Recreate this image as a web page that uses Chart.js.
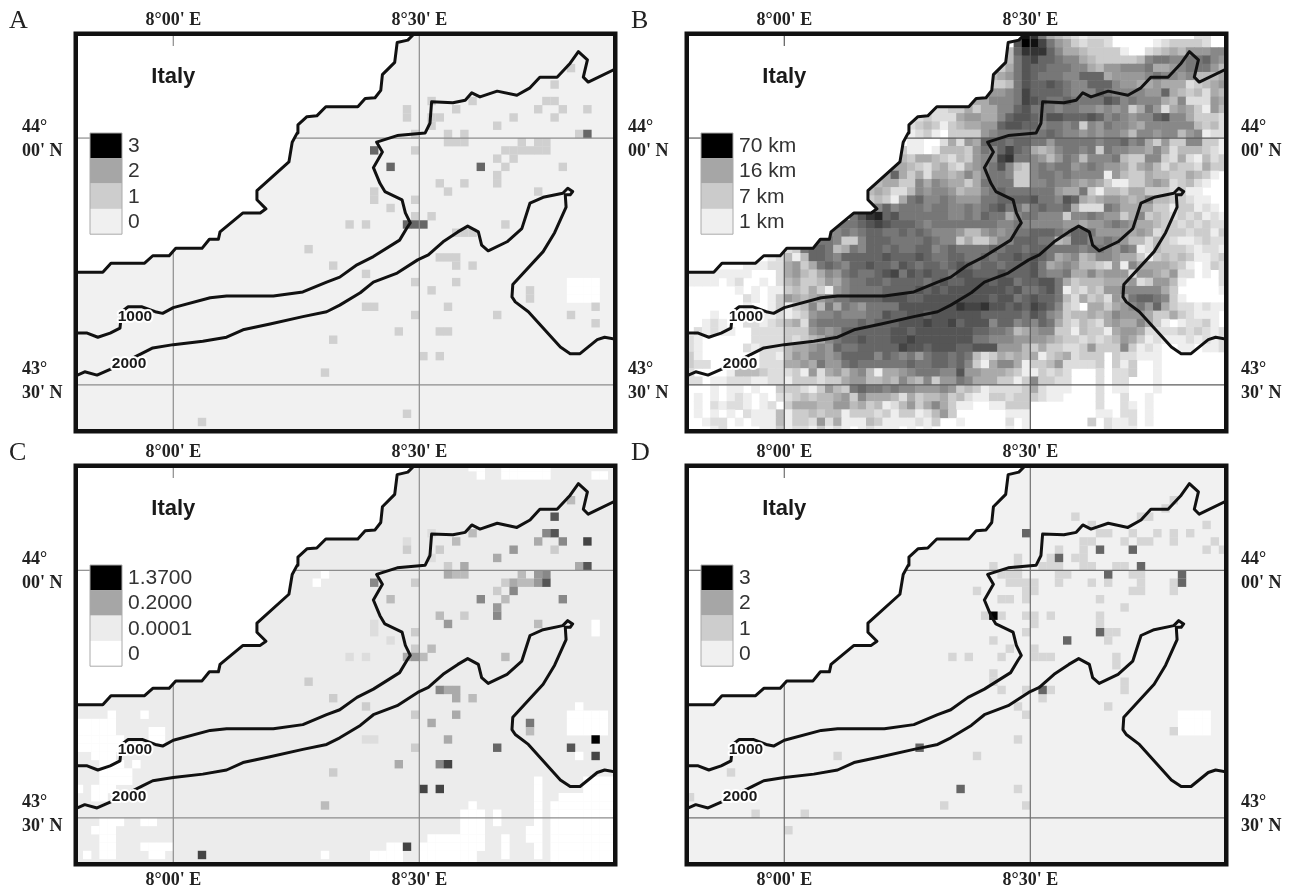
<!DOCTYPE html>
<html>
<head>
<meta charset="utf-8">
<title>Italy maps</title>
<script src="https://cdn.jsdelivr.net/npm/chart.js@4"></script>
<style>
html, body { margin: 0; background: #fff; }
canvas { position: absolute; filter: blur(0.5px); }
</style>
</head>
<body>
<canvas id="mapA" width="620" height="440" style="left:0;top:0"></canvas>
<canvas id="mapB" width="669" height="440" style="left:620px;top:0"></canvas>
<canvas id="mapC" width="620" height="450" style="left:0;top:440px"></canvas>
<canvas id="mapD" width="669" height="450" style="left:620px;top:440px"></canvas>
<script>
// all map positions are minutes: x east of 8°00', y north of 43°30'
const lonLabels = ["8°00' E", "8°30' E"];
const latLabels = [["44°", "00' N"], ["43°", "30' N"]];
const gridLons = [0, 30];
const gridLats = [30, 0];

const legendA = ["3", "2", "1", "0"];
const legendB = ["70 km", "16 km", "7 km", "1 km"];
const legendC = ["1.3700", "0.2000", "0.0001", "0"];
const legendD = ["3", "2", "1", "0"];

const coastNorth = [[-11.7,13.7],[-8.6,13.7],[-7.6,14.8],[-3.5,14.8],[-2.5,15.7],[-0.5,15.7],[0.3,16.6],[3.5,16.6],[4.4,17.7],[5.5,17.7],[5.7,18.6],[8.5,20.9],[10.6,20.9],[11.3,21.4],[10.2,22.5],[10.2,23.6],[14.1,27.1],[14.5,29.5],[15.1,30.6],[15.2,31.6],[16.3,32.6],[17.5,32.7],[18.6,33.8],[22.5,33.8],[23.4,34.8],[24.6,34.9],[25.3,35.8],[25.5,37.7],[27,39.2],[27.3,41.6],[28.6,41.9],[29.2,42.5]];
const iso1000 = [[-11.7,6.3],[-10.5,6.3],[-9.2,5.8],[-7.7,6.3],[-6.5,6.9],[-6.3,8.9],[-5.5,9.5],[-3.8,9.5],[-2.2,8.9],[-1.3,8.7],[0,9.4],[4.5,10.6],[6.5,10.8],[12.2,10.8],[15.8,11.3],[18.7,12.5],[20.3,13.1],[22.4,14.6],[24.4,15.6],[27.6,17.6],[28.5,19.1],[28.9,19.7],[28.3,20.9],[27.9,22.5],[25.8,23.5],[25.2,24.5],[24.4,26.4],[25.5,28.3],[24.8,29.5],[27.3,30.3],[30.7,30.6],[31.3,31.8],[31.5,34.4],[34.1,34.3],[35.6,34.6],[36.4,35.5],[37.4,35],[39.5,35.7],[41.9,35.2],[43.5,36.1],[44.7,37.4],[46.8,37.4],[48.4,39.1],[49.4,40.5],[50.5,39.5],[50,37.4],[50.6,36.8],[53.7,38.3]];
const iso2000 = [[-11.7,1.2],[-10.8,1.6],[-9.3,1.2],[-7.7,1.9],[-3.7,3.9],[-2.5,4.5],[0,4.9],[3.6,5.3],[6.5,5.8],[8.5,6.7],[11.8,7.4],[15.8,8.3],[18.7,8.9],[20.3,9.7],[22.8,11.2],[24.4,12.5],[27.3,13.6],[29.8,15.2],[31.1,15.8],[32.9,17.4],[34.7,18.6],[35.9,19.3],[37.2,18.6],[37.6,17],[38.4,16.3],[40.7,17.4],[42.5,19],[43.5,22.1],[45.1,22.8],[47.5,23.3],[48.1,23.9],[48.7,23.5],[48.4,23.1],[47.8,23.1],[47.9,21.6],[46.5,18.5],[45.1,16.2],[41.4,12.2],[41.3,10.7],[41.7,10.1],[43.3,8.9],[47.2,4.6],[48.4,3.8],[49.6,3.8],[51.7,5.5],[52.6,5.8],[53.7,5.6]];

// panel A, cells [col, row] per class
const aOnes = [[28,32],[28,33],[31,34],[32,32],[31,32],[31,31],[34,33],[36,34],[29,30],[33,30],[33,29],[34,29],[35,30],[35,29],[29,28],[39,31],[41,32],[44,33],[45,34],[46,34],[47,33],[46,32],[46,36],[48,38],[50,33],[49,30],[42,29],[44,29],[45,29],[40,28],[41,28],[42,28],[43,28],[44,28],[45,28],[41,27],[39,27],[40,26],[47,26],[39,25],[39,24],[32,24],[33,23],[35,24],[44,23],[29,22],[24,23],[24,22],[26,21],[29,20],[31,20],[21,19],[23,19],[40,19],[34,18],[35,18],[36,18],[32,15],[33,15],[34,15],[34,14],[36,14],[23,13],[29,12],[34,12],[31,11],[43,11],[43,10],[23,9],[24,9],[33,9],[29,8],[39,8],[48,8],[51,9],[51,7],[27,6],[32,6],[33,6],[30,3],[32,3],[28,-4],[16,16],[19,14],[19,5],[18,1],[3,-5]];
const aTwos = [[50,30],[37,26],[26,26],[24,28],[28,19],[29,19],[30,19]];
const aBlank = [[48,12],[49,12],[50,12],[51,12],[48,11],[49,11],[50,11],[51,11],[48,10],[49,10],[50,10],[51,10]];

// panel B, one hex digit per cell from col -12 to 53 (0 white, f black), top row is 42
const bRows = [
"000000000000 0000000000 0000000000 000000009e c854321222 0000000000 2200",
"000000000000 0000000000 0000000000 00000000af eb86532332 0000012333 3200",
"000000000000 0000000000 0000000000 000000049c cc97554333 3100234546 6677",
"000000000000 0000000000 0000000000 000000048a b998775433 3334788778 8976",
"000000000000 0000000000 0000000000 000000358a 9988877546 6777855678 8864",
"000000000000 0000000000 0000000000 000004568a 9888779995 6666787767 4445",
"000000000000 0000000000 0000000000 000033348a 99a9877999 7665565552 3456",
"000000000000 0000000000 0000000000 000566678b 9999877798 7777669543 4254",
"000000000000 0000000000 0000000000 004557778b a98898888a 9787775472 2265",
"000000000000 0000000000 0000000322 335355779a 8887887767 6735862565 3164",
"000000000000 0000000000 0000002322 25665579aa 98aa999a97 876779a775 3332",
"000000000000 0000000000 0000023431 3455669aa9 9788783768 7765777777 4342",
"000000000000 0000000000 0000012310 3333678888 8898776767 7647767746 7122",
"000000000000 0000000000 0000011002 5265999899 8868888878 8978536337 7331",
"000000000000 0000000000 0000311014 4436879b98 5457887838 7766575244 4321",
"000000000000 0000000000 0003435543 243677bc88 7646874777 8433773252 1423",
"000000000000 0000000000 0055543245 325678a743 7878867876 6535642433 2533",
"000000000000 0000000000 0459535255 4575788733 7887877771 6433544335 4310",
"000000000000 0000000000 3455337576 5535888833 7787765653 1133565234 2100",
"000000000000 0000000004 4542247677 6455789888 8886558314 4355333231 1000",
"000000000000 0000000004 3431589778 7666889999 a887a95456 6545744332 1100",
"000000000000 0000000000 6797888788 778789a886 8988952228 7555533133 1210",
"000000000000 000000008a cd9a888888 7787988578 8777377876 6357343232 3121",
"000000000000 0000008889 aba9998788 8888887787 7777665667 8765543323 2322",
"000000000000 0000077878 9988989877 7644676788 9998799866 6656523332 3313",
"000000000000 0007887337 9998888987 7353357799 9884599778 7644243211 2322",
"000000000012 2389984587 9989889978 9888898998 9988887887 6871243332 1221",
"000000000012 4149987999 99a999a988 99889899a9 a985674577 6553134343 1123",
"000000011122 5635898799 a998a98998 9a98998999 a856764432 6175555431 0132",
"111111110002 5643576898 89ab8a9a99 8aa999a999 a877855756 6626654622 0102",
"111101200102 4533465788 998999989a 99aaa9aa89 9aa8534445 5562366410 0002",
"000000101011 3435316788 889999a9a9 aaaaaaa9a8 89a8132436 6777775300 0001",
"000000021013 6545678899 99aaa99aaa aaaaa9aa89 a998425342 6589987310 0000",
"000000010013 1347485876 8888aaaaaa acbbcaa9a9 ba97320553 5678695322 1211",
"000100010112 1236778777 88a99aa9aa aaaa999998 a976344545 7666533532 1110",
"001210022123 4527888889 8999aaabaa b9aaa79978 7985324325 6557531012 2310",
"021211002222 3336767999 999aa9aaaa aaa9988745 6773314331 5665222232 3212",
"210000002222 323457899a 999aabaaaa aaa8877766 6654332323 4653121112 1212",
"210000021222 4556769889 9999baa9aa a99aaa6664 3533223633 3731210011 0112",
"310000000221 4657767999 9798786899 8984235454 5134523330 3221110000 0000",
"322000000222 5565866898 8888898899 8973157751 3346222230 3130010000 0000",
"200001444322 2316256467 4155678887 7a66555431 1323200020 2230010000 0000",
"220112221122 1333233566 4454754736 6875553313 7332200020 2200010000 0000",
"000101101003 3321364389 8878776667 6343122223 5211100020 1100010000 0000",
"010101210102 2343445637 5554253445 3421133233 3211000020 0200100000 0000",
"010212210120 3555446645 3412463575 3110011333 0000000020 0210100000 0000",
"010101021114 1334344133 3231331246 3000000111 0000000011 0220100000 0000",
"001220101114 1332625111 4311112130 0100000201 0000000302 1120100000 0000",
"000120000113 1221312101 2111010100 0000000101 0000000002 1110000000 0000"
];

// panel C, cells [col, row, shade] with shade 0 white to 15 black
const cShades = [[28,33,2],[28,32,3],[31,34,2],[32,32,3],[31,31,2],[34,33,4],[36,34,4],[33,30,3],[35,30,5],[33,29,5],[34,29,4],[35,29,4],[39,31,5],[41,32,6],[44,33,5],[45,34,7],[46,34,10],[46,36,10],[47,33,7],[46,32,3],[48,38,4],[50,33,11],[49,30,5],[50,30,10],[42,29,4],[44,29,6],[45,29,7],[40,28,3],[41,28,5],[42,28,4],[43,28,4],[44,28,6],[45,28,10],[39,27,3],[41,27,7],[40,26,4],[37,26,7],[47,26,7],[39,25,6],[39,24,7],[32,24,4],[33,23,6],[35,24,3],[44,23,4],[24,28,7],[29,28,3],[26,26,4],[24,23,2],[24,22,2],[29,22,3],[26,21,2],[29,20,3],[31,20,4],[21,19,2],[23,19,2],[28,19,5],[29,19,6],[30,19,4],[40,19,4],[16,16,3],[19,14,3],[23,13,3],[29,12,3],[31,11,5],[32,15,7],[33,15,5],[34,15,5],[34,14,5],[36,14,4],[34,12,5],[43,11,8],[43,10,4],[23,9,2],[24,9,2],[33,9,5],[29,8,3],[39,8,9],[48,8,10],[51,9,15],[51,7,11],[27,6,5],[32,6,7],[33,6,11],[19,5,3],[30,3,11],[32,3,11],[18,1,4],[28,-4,11],[3,-5,11]];
// panel C, white runs [row, first col, last col]
const cBlankRuns = [[13,49,49],[12,-8,-8],[12,-4,-4],[12,48,52],[11,-12,-8],[11,48,52],[10,-12,-8],[10,-3,-2],[10,48,52],[9,-12,-7],[9,-3,-2],[8,-12,-7],[7,-10,-8],[7,49,49],[6,-9,-7],[6,-5,-5],[5,-9,-6],[4,-9,-6],[4,44,44],[4,50,53],[3,-12,-12],[3,-10,-8],[3,44,44],[3,50,53],[2,-10,-9],[2,44,44],[2,47,53],[1,36,36],[1,44,44],[1,46,53],[0,35,37],[0,39,39],[0,44,44],[0,46,53],[-1,-9,-7],[-1,-4,-3],[-1,35,37],[-1,39,39],[-1,44,44],[-1,46,53],[-2,-10,-8],[-2,35,37],[-2,43,44],[-2,46,53],[-3,-9,-8],[-3,31,37],[-3,40,40],[-3,43,44],[-3,46,53],[-4,-9,-8],[-4,-4,-1],[-4,26,27],[-4,30,37],[-4,40,40],[-4,44,44],[-4,46,53],[-5,-11,-11],[-5,-9,-8],[-5,-3,-2],[-5,18,18],[-5,24,27],[-5,30,36],[-5,40,40],[-5,44,44],[-5,46,53],[-6,24,27],[-6,30,36],[-6,46,53],[42,36,37],[42,40,45],[41,37,37],[41,40,45],[41,51,52],[23,51,51],[22,51,51],[28,17,17],[29,18,18]];

// panel D
const dOnes = [[35,36],[37,35],[43,36],[44,36],[47,38],[46,37],[51,35],[49,34],[47,34],[47,33],[45,34],[42,34],[43,33],[44,33],[41,33],[38,34],[39,34],[36,33],[37,33],[36,32],[36,31],[36,30],[35,31],[37,30],[33,32],[32,31],[31,30],[32,30],[33,30],[33,29],[33,28],[34,29],[40,30],[41,30],[43,29],[43,28],[43,27],[42,29],[42,27],[37,28],[39,28],[47,28],[47,27],[51,32],[52,33],[53,32],[38,26],[41,25],[38,24],[38,23],[39,22],[40,22],[39,21],[25,30],[28,31],[28,30],[27,29],[28,29],[27,28],[28,28],[26,29],[29,28],[29,27],[29,26],[30,28],[30,27],[23,27],[26,26],[27,26],[24,24],[26,24],[29,24],[30,24],[30,23],[32,24],[29,22],[25,21],[27,20],[26,19],[20,19],[22,19],[30,20],[30,19],[31,19],[32,19],[40,19],[40,18],[25,17],[25,16],[26,15],[29,15],[32,15],[31,14],[41,16],[41,15],[28,13],[29,12],[39,13],[28,9],[23,7],[6,7],[-7,5],[28,3],[19,1],[29,1],[-4,0],[2,0],[0,-2],[47,10],[-12,2]];
const dTwos = [[29,34],[38,32],[42,32],[33,31],[43,30],[39,29],[48,29],[48,28],[38,22],[34,21],[31,15],[16,8],[21,3]];
const dThrees = [[25,24]];
const dBlank = [[48,12],[49,12],[50,12],[51,12],[48,11],[49,11],[50,11],[51,11],[48,10],[49,10],[50,10],[51,10]];

const lonMin = -11.62, lonMax = 53.62, latMin = -5.35, latMax = 42.4;

function cellsFromPairs(list, color) {
  return list.map(c => ({ x: c[0] + 0.5, y: c[1] + 0.5, color: color }));
}

function grey(s) {
  const g = 255 - 17 * s;
  return `rgb(${g},${g},${g})`;
}

function toPts(list) {
  return list.map(p => ({ x: p[0], y: p[1] }));
}

let cellsA = [].concat(cellsFromPairs(aBlank, "#fff"), cellsFromPairs(aOnes, "#d0d0d0"), cellsFromPairs(aTwos, "#666"));
let cellsD = [].concat(cellsFromPairs(dBlank, "#fff"), cellsFromPairs(dOnes, "#d6d6d6"), cellsFromPairs(dTwos, "#666"), cellsFromPairs(dThrees, "#000"));

let cellsB = [];
bRows.forEach((line, i) => {
  let digits = line.replace(/ /g, "");
  for (let k = 0; k < digits.length; k++) {
    let s = parseInt(digits[k], 16);
    if (s > 0) cellsB.push({ x: k - 12 + 0.5, y: 42 - i + 0.5, color: grey(s) });
  }
});

let cellsC = [];
cBlankRuns.forEach(r => {
  for (let c = r[1]; c <= r[2]; c++) cellsC.push({ x: c + 0.5, y: r[0] + 0.5, color: "#fff" });
});
cShades.forEach(c => cellsC.push({ x: c[0] + 0.5, y: c[1] + 0.5, color: grey(c[2]) }));

// lines first: chart.js paints dataset 0 last
function buildDatasets(cells, gridColor, cellRadius) {
  let lineBase = { showLine: true, pointRadius: 0, fill: false, tension: 0, clip: 0 };
  let shore = { borderColor: "#111", borderWidth: 3, borderJoinStyle: "round", borderCapStyle: "round" };
  let land = toPts(coastNorth).concat([{ x: 29.2, y: 44 }, { x: -13, y: 44 }, { x: -13, y: 13.7 }, { x: -11.7, y: 13.7 }]);
  let sets = [
    Object.assign({}, lineBase, shore, { data: toPts(coastNorth) }),
    Object.assign({}, lineBase, shore, { data: toPts(iso1000) }),
    Object.assign({}, lineBase, shore, { data: toPts(iso2000) }),
    Object.assign({}, lineBase, { data: [{ x: 0, y: latMax }, { x: 0, y: latMax - 1.2 }], borderColor: gridColor, borderWidth: 1.2 }),
    Object.assign({}, lineBase, { data: [{ x: lonMin, y: 30 }, { x: lonMin + 1.6, y: 30 }], borderColor: gridColor, borderWidth: 1.2 }),
    Object.assign({}, lineBase, { data: land, borderWidth: 0, fill: "shape", backgroundColor: "#fff" })
  ];
  gridLons.forEach(lon => {
    sets.push(Object.assign({}, lineBase, { data: [{ x: lon, y: latMin }, { x: lon, y: latMax }], borderColor: gridColor, borderWidth: 1.2 }));
  });
  gridLats.forEach(lat => {
    sets.push(Object.assign({}, lineBase, { data: [{ x: lonMin, y: lat }, { x: lonMax, y: lat }], borderColor: gridColor, borderWidth: 1.2 }));
  });
  sets.push({
    data: cells,
    showLine: false,
    clip: 0,
    pointStyle: "rect",
    pointRadius: cellRadius,
    pointBorderWidth: 0,
    pointBackgroundColor: cells.map(c => c.color)
  });
  return sets;
}

const decor = {
  id: "decor",
  beforeDatasetsDraw(chart, args, o) {
    let a = chart.chartArea, ctx = chart.ctx;
    ctx.save();
    ctx.fillStyle = o.sea;
    ctx.fillRect(a.left, a.top, a.right - a.left, a.bottom - a.top);
    ctx.restore();
  },
  afterDatasetsDraw(chart, args, o) {
    let a = chart.chartArea, ctx = chart.ctx, x = chart.scales.x, y = chart.scales.y;
    ctx.save();
    ctx.strokeStyle = "#111";
    ctx.lineWidth = 4.5;
    ctx.strokeRect(a.left - 2.25, a.top - 2.25, a.right - a.left + 4.5, a.bottom - a.top + 4.5);

    ctx.textAlign = "center";
    ctx.textBaseline = "alphabetic";
    ctx.fillStyle = "#1a1a1a";
    ctx.font = "bold 22px 'Liberation Sans'";
    ctx.fillText("Italy", x.getPixelForValue(0), y.getPixelForValue(36.7));

    ctx.font = "bold 15.5px 'Liberation Sans'";
    ctx.lineWidth = 4;
    ctx.strokeStyle = "#fff";
    ctx.lineJoin = "round";
    [["1000", -4.67, 8.4], ["2000", -5.4, 2.75]].forEach(t => {
      let px = x.getPixelForValue(t[1]), py = y.getPixelForValue(t[2]) + 5.5;
      ctx.strokeText(t[0], px, py);
      ctx.fillText(t[0], px, py);
    });

    // legend
    let bx = a.left + 12, by = a.top + 97, bw = 32, bh = 25.3;
    o.legendColors.forEach((c, i) => {
      ctx.fillStyle = c;
      ctx.fillRect(bx, by + i * bh, bw, bh);
    });
    ctx.strokeStyle = "#aaa";
    ctx.lineWidth = 1;
    ctx.strokeRect(bx, by, bw, bh * 4);
    ctx.fillStyle = "#333";
    ctx.textAlign = "left";
    ctx.font = "21px 'Liberation Sans'";
    o.legend.forEach((t, i) => ctx.fillText(t, bx + bw + 6, by + i * bh + 19));

    // panel letter
    ctx.fillStyle = "#222";
    ctx.font = "26px 'Liberation Serif'";
    ctx.fillText(o.letter, o.letterX, o.letterY);
    ctx.restore();
  }
};

function fixedWidth(w) {
  return scale => { scale.width = w; scale.paddingTop = 0; scale.paddingBottom = 0; };
}
function fixedHeight(h) {
  return scale => { scale.height = h; scale.paddingLeft = 0; scale.paddingRight = 0; };
}
const labelFont = { family: "'Liberation Serif'", size: 18, weight: "bold", lineHeight: 1.36 };
// the two line labels sit a little off their gridline in the picture
const latLabelShift = [-0.15, 0.45];

function lonAxis(position, h, show, pad) {
  return {
    type: "linear", position: position, min: lonMin, max: lonMax,
    grid: { display: false, drawTicks: false }, border: { display: false },
    afterBuildTicks: s => { s.ticks = gridLons.map(v => ({ value: v })); },
    afterFit: fixedHeight(h),
    ticks: { display: show, padding: pad, maxRotation: 0, color: "#222", font: labelFont,
      callback: (v, i) => lonLabels[i] }
  };
}
function latAxis(position, w, show) {
  return {
    type: "linear", position: position, min: latMin, max: latMax,
    grid: { display: false, drawTicks: false }, border: { display: false },
    afterBuildTicks: s => { s.ticks = gridLats.map((v, i) => ({ value: v + latLabelShift[i] })); },
    afterFit: fixedWidth(w),
    ticks: { display: show, padding: 17, color: "#222", font: labelFont,
      crossAlign: position === "left" ? "far" : "near",
      callback: (v, i) => latLabels[i] }
  };
}

function drawMap(id, cells, gridColor, sea, legend, legendColors, letter, g) {
  new Chart(document.getElementById(id), {
    type: "scatter",
    data: { datasets: buildDatasets(cells, gridColor, g.cellRadius) },
    options: {
      responsive: false,
      animation: false,
      events: [],
      layout: { padding: { left: g.padLeft } },
      scales: {
        x: lonAxis("bottom", g.bottom, g.showBottom, 6),
        xTop: lonAxis("top", g.top, true, 3),
        y: latAxis("left", g.left, g.showLeft),
        yRight: latAxis("right", g.right, g.showRight)
      },
      plugins: {
        legend: { display: false },
        tooltip: { enabled: false },
        decor: { sea: sea, legend: legend, legendColors: legendColors, letter: letter, letterX: g.letterX, letterY: g.letterY }
      }
    },
    plugins: [decor]
  });
}

drawMap("mapA", cellsA, "#8c8c8c", "#f1f1f1", legendA, ["#000", "#a6a6a6", "#cdcdcd", "#f0f0f0"], "A",
  { cellRadius: 5.95, padLeft: 22, left: 56, right: 7, top: 36, bottom: 11, showLeft: true, showRight: false, showBottom: false, letterX: 9, letterY: 28 });
drawMap("mapB", cellsB, "#5c5c5c", "#fff", legendB, ["#000", "#a6a6a6", "#cbcbcb", "#efefef"], "B",
  { cellRadius: 6.2, padLeft: 8, left: 61, right: 65, top: 36, bottom: 11, showLeft: true, showRight: true, showBottom: false, letterX: 11, letterY: 28 });
drawMap("mapC", cellsC, "#8c8c8c", "#ececec", legendC, ["#000", "#a6a6a6", "#ececec", "#fff"], "C",
  { cellRadius: 5.95, padLeft: 22, left: 56, right: 7, top: 28, bottom: 28, showLeft: true, showRight: false, showBottom: true, letterX: 9, letterY: 20 });
drawMap("mapD", cellsD, "#707070", "#f1f1f1", legendD, ["#000", "#a6a6a6", "#cdcdcd", "#f0f0f0"], "D",
  { cellRadius: 5.95, padLeft: 8, left: 61, right: 65, top: 28, bottom: 28, showLeft: false, showRight: true, showBottom: true, letterX: 11, letterY: 20 });
</script>
</body>
</html>
